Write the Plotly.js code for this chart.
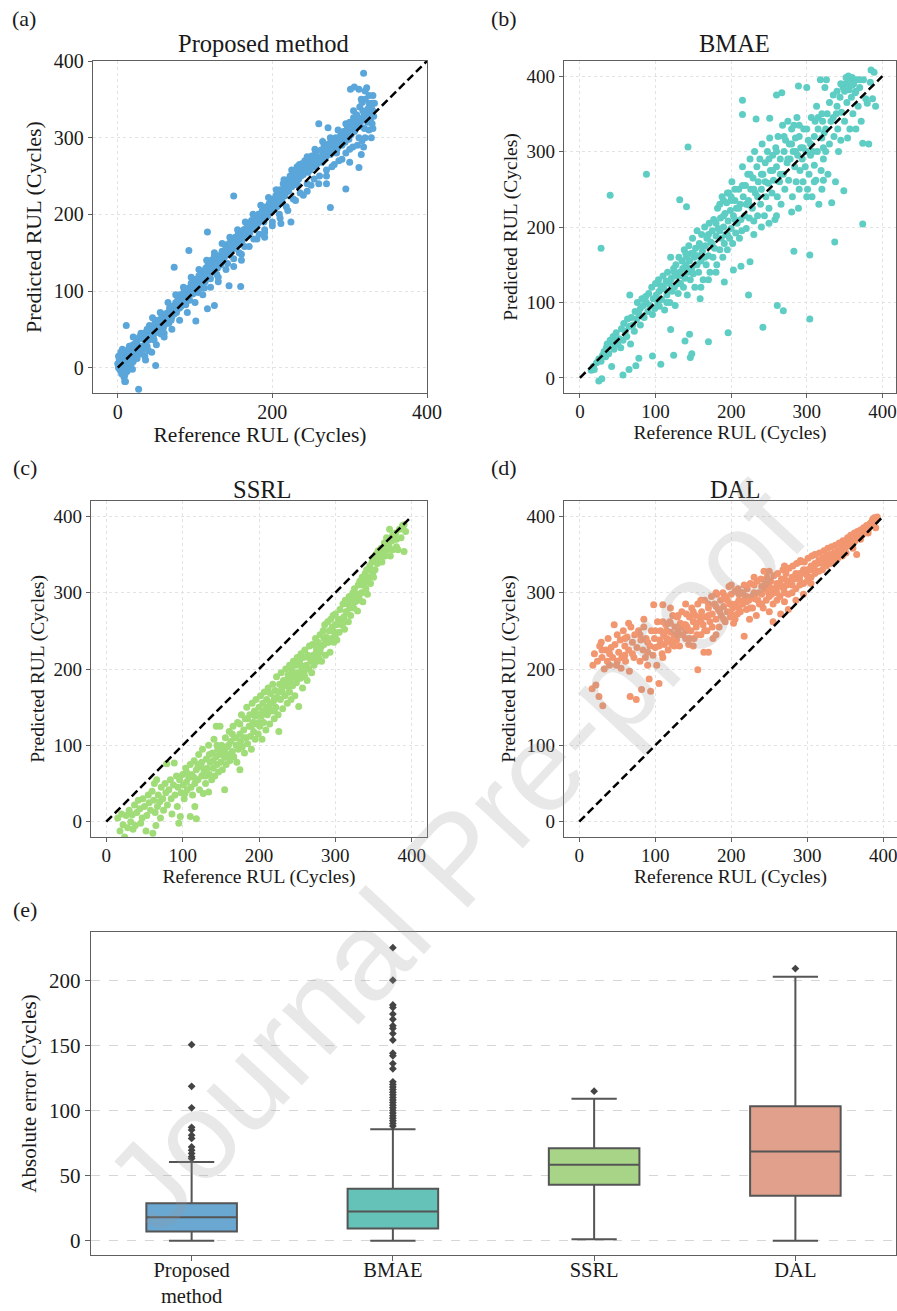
<!DOCTYPE html>
<html><head><meta charset="utf-8">
<script src="https://cdn.plot.ly/plotly-3.0.1.min.js"></script>
<style>html,body{margin:0;padding:0;background:#fff;}#chart{width:897px;height:1311px;}</style>
</head><body><div id="chart"></div>
<script>
// ---------- DATA ----------
// (a) Proposed method: [reference RUL, predicted RUL]
const proposedPairs = [
[0,5],[1,0],[2,10],[3,-3],[4,20],[5,8],[5,-8],[6,15],[7,2],[8,-12],[9,12],[10,-18],[10,5],[11,22],[12,-5],[13,8],[14,15],[15,2],[16,28],[17,10],[18,20],[19,-2],[20,30],[21,18],[22,12],[24,25],[25,35],[26,20],[27,-28],[28,40],[30,28],[31,38],[32,22],[34,45],[35,30],[36,10],[37,42],[38,50],[40,36],[41,55],[42,44],[44,20],[45,52],[46,40],[48,58],[49,3],[50,46],[52,62],[53,50],[55,60],[56,44],[58,65],[60,55],[61,70],[63,62],[65,72],[66,58],[68,75],[70,66],[71,80],[73,70],[75,85],[76,72],[78,90],[80,78],[81,95],[83,84],[85,90],[86,100],[88,82],[90,95],[92,104],[93,88],[95,110],[97,96],[99,115],[100,102],[101,61],[102,110],[104,98],[105,120],[107,108],[109,125],[110,112],[112,104],[114,130],[115,118],[117,135],[118,124],[120,116],[121,140],[123,128],[125,150],[126,132],[128,122],[130,140],[131,146],[133,134],[135,152],[137,142],[139,160],[140,148],[142,136],[144,162],[145,150],[147,168],[149,155],[150,142],[152,170],[154,160],[156,175],[157,150],[159,165],[160,178],[162,170],[164,158],[166,182],[167,172],[169,188],[171,176],[173,192],[175,182],[176,168],[178,196],[180,186],[182,200],[183,174],[185,192],[187,205],[189,190],[190,180],[192,210],[194,198],[196,214],[198,204],[200,190],[201,220],[203,208],[205,225],[207,212],[209,200],[210,232],[212,218],[214,240],[216,224],[218,210],[220,245],[221,230],[223,250],[225,236],[227,220],[229,255],[230,240],[232,262],[234,246],[236,228],[238,266],[240,252],[242,270],[243,256],[245,240],[247,272],[249,258],[251,276],[252,262],[254,246],[256,280],[258,266],[260,318],[261,250],[263,284],[265,270],[267,290],[269,274],[270,258],[272,313],[273,292],[275,278],[277,262],[279,296],[280,282],[282,300],[284,286],[286,270],[288,302],[290,290],[292,308],[294,294],[295,280],[297,312],[299,298],[300,320],[302,304],[304,288],[305,326],[307,310],[309,330],[310,316],[312,300],[313,340],[315,322],[316,346],[318,328],[319,312],[320,350],[322,334],[323,320],[325,345],[326,330],[328,340],[329,318],[330,335],[325,310],
[3,12],[7,-4],[13,20],[18,6],[23,32],[28,18],[33,40],[38,28],[43,50],[47,36],[51,55],[54,48],[57,68],[59,52],[62,64],[64,58],[67,78],[69,62],[72,74],[74,80],[77,76],[79,88],[82,80],[84,96],[87,88],[89,100],[91,92],[94,102],[96,108],[98,100],[103,115],[106,104],[108,118],[111,126],[113,112],[116,122],[119,132],[122,126],[124,138],[127,136],[129,130],[132,144],[134,140],[136,150],[138,144],[141,155],[143,150],[146,158],[148,162],[151,156],[153,165],[155,160],[158,172],[161,166],[163,180],[165,170],[168,178],[170,184],[172,180],[174,190],[177,186],[179,192],[181,188],[184,198],[186,194],[188,200],[191,196],[193,205],[195,202],[197,210],[199,206],[202,214],[204,218],[206,210],[208,222],[211,226],[213,215],[215,232],[217,228],[219,238],[222,236],[224,240],[226,248],[228,242],[231,250],[233,238],[235,256],[237,250],[239,260],[241,258],[244,262],[246,255],[248,268],[250,264],[253,270],[255,262],[257,275],[259,270],[262,275],[264,268],[266,280],[268,276],[271,284],[274,282],[276,290],[278,284],[281,292],[283,280],[285,298],[287,292],[289,305],[291,300],[293,296],[296,305],[298,310],[301,312],[303,318],[306,308],[308,322],[311,325],[314,315],[317,335],[321,325],[324,338],[327,322],[329,345],[331,328],[315,278],[300,268],[270,240],[245,230],[190,170],[160,140],[130,112],[60,45],[35,15],[20,8],[15,28],[6,24],[9,-10],[1,15],
[20,40],[25,12],[30,45],[40,22],[45,65],[50,30],[55,72],[60,40],[65,85],[70,50],[75,95],[80,62],[85,105],[90,72],[95,118],[100,85],[105,128],[110,95],[115,140],[120,105],[125,145],[130,118],[135,162],[140,128],[145,170],[150,132],[155,180],[160,148],[165,190],[170,158],[175,200],[180,168],[185,212],[190,176],[195,222],[200,185],[205,232],[210,195],[215,245],[220,205],[225,258],[230,218],[235,265],[240,225],[245,275],[250,238],[255,285],[260,240],[265,295],[270,250],[275,300],[280,265],[285,310],[290,272],[295,318],[300,285],[305,335],[310,290],[315,350],[320,300],[325,355],[330,312],[332,345],[328,300],[322,365],[330,355],
[318,384],[312,363],[301,363],[320,361],[306,366],[312,261],[295,233],[275,209],[224,190],[211,188],[150,224],[116,177],[92,153],[73,131],[144,107],[159,106],[125,81],[116,77],[11,55],[9,-18],[318,288],[316,296]
];
// (b) BMAE
const bmaePairs = [
[15,10],[18,15],[22,20],[25,25],[28,22],[30,30],[32,35],[34,28],[35,40],[36,45],[38,32],[40,50],[42,42],[44,55],[45,38],[47,48],[48,60],[50,45],[52,52],[54,40],[55,65],[57,50],[58,72],[60,62],[62,55],[63,78],[65,68],[66,110],[67,45],[68,80],[70,70],[72,62],[73,88],[75,78],[76,100],[78,85],[80,92],[80,70],[82,105],[84,96],[85,80],[87,108],[88,100],[90,88],[91,112],[93,96],[95,120],[96,84],[97,105],[99,92],[100,125],[101,110],[103,98],[104,130],[105,115],[107,122],[108,104],[110,135],[111,118],[112,90],[114,128],[115,110],[116,140],[118,125],[119,100],[120,160],[121,132],[122,115],[124,145],[125,120],[126,96],[127,150],[128,135],[130,112],[131,160],[132,140],[133,125],[135,155],[136,145],[137,120],[138,170],[139,132],[140,150],[141,160],[142,110],[143,140],[144,175],[145,155],[146,130],[147,165],[148,145],[149,185],[150,138],[151,160],[152,120],[153,172],[154,150],[155,195],[156,162],[157,140],[158,178],[159,105],[160,155],[161,190],[162,168],[163,130],[165,200],[166,175],[167,150],[168,185],[170,162],[171,205],[172,140],[173,180],[175,195],[176,160],[177,210],[178,172],[180,188],[181,150],[182,225],[183,198],[185,170],[186,212],[187,185],[188,240],[189,160],[190,200],[191,178],[192,218],[193,190],[194,232],[195,170],[196,208],[197,245],[198,185],[199,222],[200,198],[201,260],[202,178],[203,215],[205,235],[206,192],[207,225],[208,205],[210,250],[211,185],[212,230],[213,210],[214,195],[215,280],[216,240],[218,215],[219,255],[220,198],[222,270],[223,235],[224,212],[225,290],[226,250],[228,225],[229,265],[230,208],[231,300],[232,245],[234,280],[235,215],[236,260],[238,290],[239,230],[240,250],[241,310],[242,270],[244,215],[245,285],[246,240],[248,300],[249,258],[250,225],[251,318],[252,275],[254,245],[255,295],[256,262],[258,210],[259,305],[260,280],[261,240],[262,320],[264,260],[265,290],[266,230],[268,335],[269,270],[270,300],[271,250],[272,315],[274,285],[275,340],[276,262],[277,310],[278,290],[280,330],[281,240],[282,300],[283,335],[284,280],[285,318],[286,260],[287,345],[288,295],[289,225],[290,320],[291,275],[292,305],[294,290],[295,260],[296,330],[298,280],[299,300],[300,385],[301,250],[302,315],[303,270],[305,295],[306,345],[307,240],[308,300],[310,282],[311,340],[312,262],[313,360],[314,300],[315,330],[316,230],[318,395],[319,275],[320,318],[321,340],[322,262],[322,290],[322,305],[323,325],[324,385],[325,300],[326,395],[327,350],[328,270],[330,365],[332,340],[333,232],[335,375],[336,320],[338,260],[339,350],[340,380],[341,330],[342,300],[344,372],[345,315],[346,352],[348,385],[349,248],[350,340],[351,390],[352,398],[353,365],[354,318],[355,400],[356,382],[357,330],[358,395],[359,372],[360,398],[361,350],[362,390],[364,378],[365,330],[366,395],[368,360],[370,385],[372,340],[374,311],[375,395],[378,370],[380,364],[382,310],[384,392],[385,408],[387,370],[389,405],[391,360],
[100,105],[105,95],[110,120],[115,100],[120,130],[125,140],[130,125],[135,135],[140,165],[145,145],[150,165],[155,150],[160,175],[165,160],[170,190],[175,178],[180,205],[185,195],[190,215],[195,190],[200,235],[205,210],[210,225],[215,255],[220,230],[225,270],[230,250],[235,240],[240,270],[245,260],[250,290],[255,275],[260,300],[265,270],[270,320],[275,290],[280,310],[285,300],[290,335],[295,305],[300,330],[305,310],[310,320],[315,345],[320,350],[325,330],[330,310],[335,345],[340,360],[345,390],[350,380],[355,390],[360,388],[365,380],[370,395],[190,235],[195,245],[200,240],[185,230],[205,250],[160,120],[170,130],[180,140],[230,190],[240,200],[250,205],[260,215],[280,220],[290,250],[300,240],[310,260],[320,250],
[28,172],[40,242],[88,270],[143,306],[132,236],[141,227],[215,368],[215,349],[374,204],[337,180],[283,168],[304,163],[304,78],[269,89],[261,96],[242,67],[196,60],[170,48],[146,27],[148,32],[145,58],[139,49],[124,30],[107,18],[120,64],[78,26],[65,11],[57,4],[25,-4],[29,-1],[19,11],[42,15],[74,16],[96,29],[213,148],[203,143],[191,127],[225,154],[223,110],[224,229],[251,344],[233,343],[260,375],[267,378],[289,387]
];
// (c) SSRL
const ssrlPairs = [
[15,5],[18,-12],[20,10],[22,-4],[24,-20],[26,8],[28,-8],[30,15],[32,0],[34,9],[35,-10],[37,22],[38,-5],[40,12],[42,28],[44,17],[45,-2],[47,5],[48,30],[50,20],[52,-12],[53,8],[55,35],[56,25],[58,15],[60,40],[61,-15],[62,28],[63,50],[64,12],[65,-5],[66,55],[67,20],[68,35],[70,26],[71,5],[72,45],[74,30],[75,15],[77,50],[78,38],[79,76],[80,22],[82,42],[84,55],[85,30],[86,10],[88,48],[89,77],[90,35],[92,60],[93,20],[94,45],[95,-2],[96,55],[97,7],[98,38],[100,62],[101,48],[102,30],[103,37],[104,70],[105,52],[106,42],[108,58],[110,7],[110,75],[111,45],[112,62],[113,35],[115,80],[116,20],[116,50],[118,4],[118,68],[120,55],[121,88],[122,42],[124,72],[125,60],[126,95],[127,37],[128,65],[130,50],[131,82],[132,70],[134,39],[134,100],[135,62],[136,78],[138,55],[139,90],[140,70],[141,108],[142,60],[144,125],[144,85],[145,75],[146,95],[147,65],[148,88],[149,125],[150,78],[151,100],[152,68],[153,92],[155,42],[155,84],[156,110],[157,75],[158,98],[160,88],[161,118],[162,80],[163,105],[165,92],[166,125],[167,85],[168,110],[170,100],[171,78],[172,130],[173,95],[175,68],[175,115],[176,105],[177,140],[178,98],[180,120],[181,90],[182,135],[183,110],[184,150],[185,102],[187,125],[188,140],[189,112],[190,95],[191,155],[192,130],[193,118],[194,145],[195,108],[196,160],[197,128],[198,140],[199,115],[200,150],[201,125],[202,165],[203,138],[204,108],[205,155],[206,130],[207,170],[208,145],[209,120],[210,160],[211,140],[212,175],[213,150],[214,128],[215,168],[216,145],[218,180],[219,158],[220,135],[221,172],[222,150],[223,190],[224,162],[225,140],[226,118],[227,180],[228,160],[229,195],[230,170],[231,148],[232,185],[234,165],[235,200],[236,178],[237,155],[238,192],[239,170],[240,205],[241,185],[242,160],[243,198],[244,178],[245,210],[246,190],[247,165],[248,205],[249,182],[250,215],[251,195],[252,151],[253,210],[254,188],[255,220],[256,200],[257,175],[258,215],[259,195],[260,225],[262,205],[263,185],[264,218],[265,200],[266,230],[268,210],[269,195],[270,232],[271,218],[272,205],[274,240],[275,222],[276,210],[277,235],[278,215],[280,245],[281,228],[282,210],[284,250],[285,232],[286,258],[287,218],[288,242],[290,262],[291,235],[292,250],[293,222],[294,265],[295,240],[296,255],[297,270],[298,235],[299,248],[300,272],[301,258],[302,238],[304,265],[305,248],[306,278],[308,258],[310,285],[311,268],[312,252],[313,290],[314,275],[316,285],[317,262],[318,295],[319,280],[320,270],[322,292],[323,300],[324,280],[325,305],[326,288],[328,298],[329,276],[330,310],[331,295],[332,315],[334,300],[335,320],[336,288],[338,312],[339,325],[340,305],[341,330],[342,298],[344,320],[345,335],[346,312],[348,340],[349,325],[350,345],[352,330],[353,350],[355,338],[356,355],[358,345],[360,358],[361,340],[362,352],[364,365],[365,348],[367,372],[368,356],[370,362],[371,383],[372,348],[374,368],[375,356],[377,370],[379,378],[380,360],[382,356],[384,383],[386,372],[388,388],[390,389],[390,354],[392,380],
[105,65],[115,58],[125,78],[135,88],[145,100],[155,95],[165,115],[175,128],[185,135],[195,138],[205,145],[215,155],[225,170],[235,185],[245,195],[255,205],[265,215],[275,228],[285,240],[295,250],[305,262],[315,275],[325,295],[335,310],[345,330],[355,348],[365,360],[375,375],[180,110],[200,140],[220,162],[240,178],[260,200],[280,222],[300,245],[320,282],[340,318],
[150,90],[160,100],[170,110],[190,125],[210,150],[230,175],[250,190],[270,210],[290,235],[310,260],[330,290],[350,320],[120,75],[130,60],[140,80],[200,130],[220,145],[240,170],[260,190],[280,230],[300,258],[320,290],[340,320],[360,345],[380,370]
];
// (d) DAL
const dalPairs = [
[17,174],[18,205],[20,220],[22,179],[24,210],[26,164],[27,230],[29,235],[30,215],[31,152],[33,200],[35,225],[37,210],[38,240],[40,205],[42,228],[44,215],[46,258],[47,232],[49,205],[50,245],[52,222],[54,238],[55,201],[56,215],[58,250],[60,230],[61,210],[63,242],[65,225],[66,197],[67,164],[68,255],[70,235],[72,215],[73,245],[75,160],[76,228],[78,250],[80,210],[81,238],[82,173],[84,225],[85,255],[87,215],[88,240],[90,205],[92,187],[93,230],[94,171],[95,250],[97,218],[98,284],[99,240],[100,228],[102,205],[103,262],[105,181],[106,238],[107,250],[109,220],[110,284],[111,245],[112,232],[114,258],[115,240],[116,236],[117,225],[119,262],[120,248],[122,232],[123,270],[125,245],[126,255],[128,238],[129,268],[130,250],[132,230],[133,260],[135,275],[136,245],[138,258],[140,240],[141,272],[142,255],[144,232],[145,268],[147,250],[148,280],[150,262],[151,240],[153,270],[154,255],[156,199],[156,285],[158,262],[160,245],[161,275],[163,258],[164,222],[165,290],[167,268],[168,250],[170,222],[170,280],[172,262],[174,295],[175,272],[176,240],[178,285],[180,265],[181,298],[183,278],[184,255],[186,290],[187,270],[189,300],[190,282],[192,262],[193,295],[195,275],[197,308],[198,285],[199,268],[200,298],[202,280],[203,260],[205,302],[206,285],[208,272],[209,305],[210,290],[212,275],[213,300],[215,285],[217,243],[217,310],[218,292],[220,278],[221,305],[223,290],[224,265],[225,312],[227,295],[228,280],[230,310],[231,292],[233,270],[234,315],[236,300],[237,285],[239,318],[240,298],[242,280],[243,328],[244,305],[246,290],[247,320],[249,300],[250,275],[252,315],[253,298],[255,285],[256,322],[258,305],[260,290],[261,325],[263,308],[264,295],[266,318],[268,330],[269,305],[270,288],[272,325],[273,310],[275,298],[276,332],[278,315],[280,300],[281,335],[283,318],[285,305],[286,338],[288,320],[290,310],[291,342],[293,325],[295,312],[296,340],[298,328],[300,315],[301,345],[303,330],[305,320],[306,348],[308,335],[310,325],[311,350],[313,338],[315,328],[316,352],[318,340],[320,330],[322,355],[323,342],[325,335],[327,358],[328,345],[330,338],[332,360],[334,348],[335,340],[337,362],[339,352],[340,345],[342,365],[344,355],[346,348],[347,368],[349,358],[351,352],[353,372],[355,362],[357,375],[358,365],[360,358],[362,378],[363,368],[365,350],[366,380],[368,372],[370,382],[372,375],[374,385],[376,378],[378,388],[380,382],[382,390],[384,392],[386,396],[388,398],[390,394],[392,399],
[60,218],[90,222],[120,238],[140,258],[160,262],[180,282],[200,285],[220,295],[240,308],[260,312],[280,320],[300,330],[320,345],[340,355],[360,370],[380,388],[110,262],[130,270],[150,275],[170,270],[190,292],[210,298],[230,300],[250,308],[270,318],[290,325],[310,338],[330,350],[350,365],[370,378],
[150,230],[155,245],[160,268],[165,250],[170,285],[175,255],[180,245],[185,275],[190,265],[195,290],[200,272],[205,265],[210,280],[215,300],[220,288],[225,280],[230,295],[235,290],[240,285],[245,312],[250,295],[255,305],[260,300],[265,310],[270,300],[275,315],[280,310],[285,325],[290,318],[295,330],[300,322],[305,335],[310,330],[315,342],[320,338],[325,348],[330,345],[335,352],[340,350],[345,362],[350,358],[355,368],[360,365],[365,372],[370,370],[375,380],[380,378],[385,388],[390,385],[100,250],[105,230],[110,215],[115,250],[120,260],[125,230],[130,245],[135,255],[140,250],[145,240],[60,240],[70,220],[80,245],[90,235],[40,220],[50,210],[30,225],[65,260],[85,265],[120,280],[140,285],[160,290],[180,300],[200,310],[230,320],[250,328],[270,335],[290,340],[310,350],[255,262],[265,272],[275,278],[285,290],[295,298],[305,312]
];
// (e) absolute error box statistics
const boxCategories = ['Proposed<br>method', 'BMAE', 'SSRL', 'DAL'];
const boxQ1 = [7.1, 9.4, 42.9, 34.4];
const boxMedian = [17.9, 22.4, 58.2, 68.4];
const boxQ3 = [28.8, 39.8, 70.9, 103.3];
const boxLowerFence = [0, 0, 1, 0];
const boxUpperFence = [60.5, 85.5, 108.9, 202.6];
const proposedOutliers = [63, 64.5, 67, 69.5, 72, 78.5, 81, 85, 87, 102, 118.5, 150.5];
const bmaeOutliers = [88, 90, 92, 94, 96, 98, 100, 102, 104, 106, 108, 110, 112, 114, 116, 118, 120, 122, 132, 136, 142, 144, 154, 159, 163, 165, 170, 174, 179, 181, 200, 225];
const ssrlOutliers = [114.8];
const dalOutliers = [208.9];
const identityLine = [0, 400];

// ---------- STYLE ----------
const W = 897, H = 1311;
const SERIF = 'Liberation Serif, Times New Roman, serif';
const TXT = '#1a1a1a';
const FRAME = '#5f5f5f';
const scatterColors = ['#5aa6da', '#5ecdc4', '#a0dc78', '#f29670'];
const boxColors = ['#6aa8d2', '#64c2b8', '#a8d488', '#e0a08c'];
const fx = p => p / W;
const fy = p => 1 - p / H;

function scAxis(anchor, isX, domain, range, dtick, tickSize, titleText, titleSize, standoff) {
  return {
    anchor: anchor, domain: domain, range: range, dtick: dtick, tick0: 0,
    showline: true, mirror: true, linecolor: FRAME, linewidth: 1.2,
    ticks: 'outside', ticklen: 4, tickwidth: 1, tickcolor: FRAME,
    ticklabelstandoff: isX ? -3 : 0, ticklabeloverflow: 'allow',
    showgrid: true, gridcolor: '#e3e3e3', griddash: 'dot', gridwidth: 1,
    zeroline: false, fixedrange: true,
    tickfont: {family: SERIF, size: tickSize, color: TXT},
    title: {text: titleText, font: {family: SERIF, size: titleSize, color: TXT}, standoff: standoff}
  };
}

const panels = [
  {pairs: proposedPairs, xa: 'x', ya: 'y'},
  {pairs: bmaePairs, xa: 'x2', ya: 'y2'},
  {pairs: ssrlPairs, xa: 'x3', ya: 'y3'},
  {pairs: dalPairs, xa: 'x4', ya: 'y4'}
];
const traces = panels.map((p, i) => ({
  type: 'scatter', mode: 'markers', xaxis: p.xa, yaxis: p.ya,
  x: p.pairs.map(d => d[0]), y: p.pairs.map(d => d[1]),
  marker: {size: 7, color: scatterColors[i], line: {width: 0}},
  hoverinfo: 'skip', showlegend: false
}));

boxCategories.forEach((c, i) => {
  traces.push({
    type: 'box', xaxis: 'x5', yaxis: 'y5', x: [c],
    q1: [boxQ1[i]], median: [boxMedian[i]], q3: [boxQ3[i]],
    lowerfence: [boxLowerFence[i]], upperfence: [boxUpperFence[i]],
    width: 0.45, whiskerwidth: 0.5, boxpoints: false,
    fillcolor: boxColors[i], line: {color: '#555555', width: 2},
    hoverinfo: 'skip', showlegend: false
  });
});
const outlierSets = [proposedOutliers, bmaeOutliers, ssrlOutliers, dalOutliers];
const ox = [], oy = [];
outlierSets.forEach((s, i) => s.forEach(v => { ox.push(boxCategories[i]); oy.push(v); }));
traces.push({
  type: 'scatter', mode: 'markers', xaxis: 'x5', yaxis: 'y5', x: ox, y: oy,
  marker: {symbol: 'diamond', size: 6, color: '#444444'}, hoverinfo: 'skip', showlegend: false
});

const xTitle = 'Reference RUL (Cycles)';
const yTitle = 'Predicted RUL (Cycles)';
const layout = {
  width: W, height: H, autosize: false,
  margin: {l: 0, r: 0, t: 0, b: 0, pad: 0},
  paper_bgcolor: '#ffffff', plot_bgcolor: '#ffffff',
  showlegend: false, hovermode: false,
  xaxis: scAxis('y', true, [fx(93), fx(427)], [-32, 400], 200, 20, xTitle, 21.5, 0),
  yaxis: scAxis('x', false, [fy(393), fy(61)], [-33, 400], 100, 20, yTitle, 22, 6),
  xaxis2: scAxis('y2', true, [fx(564), fx(896)], [-21, 418], 100, 19, xTitle, 19.5, 0),
  yaxis2: scAxis('x2', false, [fy(393), fy(61)], [-20, 420], 100, 19, yTitle, 19.5, 3),
  xaxis3: scAxis('y3', true, [fx(91), fx(427)], [-20, 420], 100, 19, xTitle, 19.5, 0),
  yaxis3: scAxis('x3', false, [fy(837), fy(501)], [-20, 420], 100, 19, yTitle, 19.5, 3),
  xaxis4: scAxis('y4', true, [fx(564), fx(897)], [-20, 418], 100, 19, xTitle, 19.5, 0),
  yaxis4: scAxis('x4', false, [fy(837), fy(501)], [-20, 420], 100, 19, yTitle, 19.5, 5),
  xaxis5: {
    anchor: 'y5',
    domain: [fx(91), fx(896)], type: 'category', categoryorder: 'array', categoryarray: boxCategories,
    range: [-0.5, 3.5], showline: true, mirror: true, linecolor: FRAME, linewidth: 1.2,
    ticks: 'outside', ticklen: 5, tickcolor: FRAME, showgrid: false, zeroline: false, fixedrange: true,
    ticklabelstandoff: -9,
    tickfont: {family: SERIF, size: 20.5, color: TXT}
  },
  yaxis5: {
    anchor: 'x5',
    domain: [fy(1255), fy(932)], range: [-11, 237], dtick: 50, tick0: 0,
    showline: true, mirror: true, linecolor: FRAME, linewidth: 1.2,
    ticks: 'outside', ticklen: 5, tickcolor: FRAME,
    showgrid: true, gridcolor: '#d6d6d6', griddash: 'dash', gridwidth: 1, zeroline: false, fixedrange: true,
    tickfont: {family: SERIF, size: 21, color: TXT},
    title: {text: 'Absolute error (Cycles)', font: {family: SERIF, size: 21, color: TXT}, standoff: 6}
  },
  shapes: panels.map(p => ({
    type: 'line', xref: p.xa, yref: p.ya, layer: 'above',
    x0: identityLine[0], y0: identityLine[0], x1: identityLine[1], y1: identityLine[1],
    line: {color: '#000000', width: 2.5, dash: '8px,4px'}
  })),
  annotations: [
    {text: 'Proposed method', x: fx(263), y: fy(43)},
    {text: 'BMAE', x: fx(734), y: fy(43)},
    {text: 'SSRL', x: fx(262), y: fy(489)},
    {text: 'DAL', x: fx(735), y: fy(489)}
  ].map(a => Object.assign(a, {xref: 'paper', yref: 'paper', showarrow: false, xanchor: 'center', yanchor: 'middle',
    font: {family: SERIF, size: 24.5, color: TXT}})).concat(
  [
    {text: '(a)', x: fx(24), y: fy(19)},
    {text: '(b)', x: fx(504), y: fy(19)},
    {text: '(c)', x: fx(25), y: fy(467)},
    {text: '(d)', x: fx(504), y: fy(467)},
    {text: '(e)', x: fx(25), y: fy(909)}
  ].map(a => Object.assign(a, {xref: 'paper', yref: 'paper', showarrow: false, xanchor: 'center', yanchor: 'middle',
    font: {family: SERIF, size: 22, color: TXT}})),
  [{text: 'Journal Pre-proof', x: fx(455), y: fy(858), xref: 'paper', yref: 'paper', showarrow: false,
    xanchor: 'center', yanchor: 'middle', textangle: -47,
    font: {family: 'Liberation Sans, Arial, sans-serif', size: 124, color: 'rgba(150,150,150,0.22)'}}]
  )
};

Plotly.newPlot('chart', traces, layout, {displayModeBar: false, staticPlot: true});
</script>
</body></html>
